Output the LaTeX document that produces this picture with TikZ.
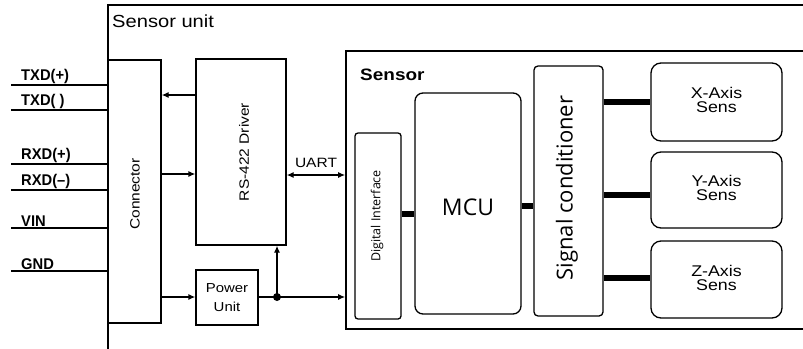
\documentclass[tikz,border=0pt]{standalone}
\usepackage{fontspec}
\setmainfont[FakeStretch=1.15]{Liberation Sans}
\newfontfamily\condfont[FakeStretch=0.95]{Liberation Sans}
\newfontfamily\osfont{Open Sans}
\usetikzlibrary{arrows.meta}
\begin{document}
\begin{tikzpicture}[x=1pt,y=-1pt,
  box/.style={draw,line width=1.3pt,inner sep=0pt},
  rbox/.style={box,rounded corners=#1},
  arr/.style={line width=1.3pt,-{Latex[length=7pt,width=6pt]}},
  darr/.style={line width=1.3pt,{Latex[length=7pt,width=6pt]}-{Latex[length=7pt,width=6pt]}},
  thick line/.style={line width=5.5pt},
  inline/.style={line width=2pt},
  inlabel/.style={anchor=south west,inner sep=1pt,font=\condfont\bfseries\fontsize{15.5}{15.5}\selectfont},
  axislbl/.style={align=center,font=\fontsize{15.5}{14}\selectfont}
]
\useasboundingbox (0,0) rectangle (803,348);
\clip (0,0) rectangle (803,348);
\fill[white] (0,0) rectangle (803,348);
% outer unit
\node[draw,line width=1.6pt,minimum width=712pt,minimum height=355pt,inner sep=0pt] (unit) at (464,182.5) {};
\node[anchor=north west,inner sep=0pt,font=\fontsize{17.5}{17.5}\selectfont] (unitlbl) at (112,14.5) {Sensor unit};
% sensor
\node[draw,line width=1.6pt,minimum width=474pt,minimum height=278pt,inner sep=0pt] (sensor) at (583,190) {};
\node[anchor=north west,inner sep=0pt,font=\bfseries\fontsize{16.5}{16.5}\selectfont] (senslbl) at (360,69) {Sensor};
% blocks
\node[box,minimum width=53pt,minimum height=263pt] (conn) at (134.5,191.5) {};
\node[rotate=90,font=\fontsize{13.5}{13.5}\selectfont] (connlbl) at (135,194) {Connector};
\node[box,minimum width=90pt,minimum height=186pt] (drv) at (241,152) {};
\node[rotate=90,font=\fontsize{13.5}{13.5}\selectfont] (drvlbl) at (244,152) {RS-422 Driver};
\node[box,minimum width=62pt,minimum height=55pt,align=center,font=\fontsize{13}{19}\selectfont] (pwr) at (227,297.5) {Power\\Unit};
\node[rbox=3pt,minimum width=46pt,minimum height=186pt] (di) at (378,226) {};
\node[rotate=90,font=\osfont\fontsize{12.5}{12.5}\selectfont] (dilbl) at (377,216) {Digital Interface};
\node[rbox=8pt,minimum width=106pt,minimum height=221pt] (mcu) at (468,203.5) {};
\node[font=\osfont\fontsize{23}{23}\selectfont] (mculbl) at (468,207) {MCU};
\node[rbox=4pt,minimum width=69pt,minimum height=250pt] (sc) at (568.5,191) {};
\node[rotate=90,font=\osfont\fontsize{22}{22}\selectfont] (sclbl) at (567,188) {Signal conditioner};
\node[rbox=10pt,minimum width=131pt,minimum height=78pt] (xs) at (716.5,102) {};
\node[rbox=10pt,minimum width=131pt,minimum height=76pt] (ys) at (716.5,190) {};
\node[rbox=10pt,minimum width=131pt,minimum height=77pt] (zs) at (716.5,279.5) {};
\node[axislbl] (xl) at (716.5,100) {X-Axis\\Sens};
\node[axislbl] (yl) at (716.5,188) {Y-Axis\\Sens};
\node[axislbl] (zl) at (716.5,278) {Z-Axis\\Sens};
% inputs
\foreach \n/\yy/\t in {a/85/{TXD(+)},b/110/{TXD( )},c/164/{RXD(+)},d/190/{RXD(–)},e/228/{VIN},f/271/{GND}}{
  \coordinate (in\n) at (11,\yy);
  \draw[inline] (in\n) -- (conn.west |- in\n);
  \node[inlabel] (l\n) at (20,\yy) {\t};
}
% arrows
\draw[arr] (drv.west |- 0,95) -- (conn.east |- 0,95);
\draw[arr] (conn.east |- 0,174) -- (drv.west |- 0,174);
\draw[arr] (conn.east |- 0,297) -- (pwr.west |- 0,297);
\coordinate (jn) at (277,297);
\draw[line width=1.3pt] (pwr.east |- jn) -- (jn);
\draw[arr] (jn) -- (sensor.west |- jn);
\draw[arr] (jn) -- (jn |- drv.south);
\fill (jn) circle (4pt);
\draw[darr] (drv.east |- 0,175) -- (sensor.west |- 0,175);
\node[font=\fontsize{13.5}{13.5}\selectfont,anchor=base,inner sep=0pt] (uart) at (316,167) {UART};
% thick buses
\draw[thick line] (di.east |- 0,214) -- (mcu.west |- 0,214);
\draw[thick line] (mcu.east |- 0,206) -- (sc.west |- 0,206);
\draw[thick line] (sc.east |- xs) -- (xs.west);
\draw[thick line] (sc.east |- 0,195) -- (ys.west |- 0,195);
\draw[thick line] (sc.east |- 0,278) -- (zs.west |- 0,278);
\end{tikzpicture}
\end{document}
